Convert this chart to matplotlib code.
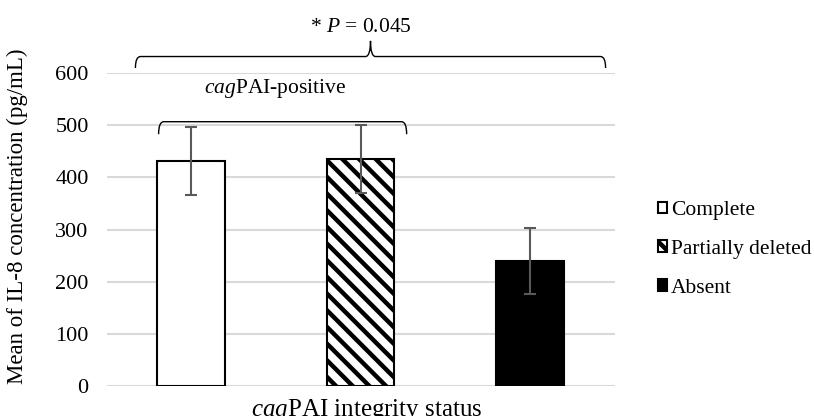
import matplotlib.pyplot as plt
from matplotlib.path import Path
from matplotlib.patches import PathPatch
import numpy as np

plt.rcParams['font.family'] = ['Liberation Serif', 'DejaVu Serif']
plt.rcParams['mathtext.fontset'] = 'custom'
plt.rcParams['mathtext.rm'] = 'Liberation Serif'
plt.rcParams['mathtext.it'] = 'Liberation Serif:italic'
plt.rcParams['hatch.linewidth'] = 3.2

# data
categories = ["Complete", "Partially deleted", "Absent"]
means = [432, 435, 240]
errors = [65, 65, 64]
faces = ["white", "white", "black"]
hatches = [None, "\\\\", None]
yticks = [0, 100, 200, 300, 400, 500, 600]

fig = plt.figure(figsize=(8.14, 4.16), dpi=100)
ax = fig.add_axes([0.131, 0.072, 0.624, 0.752])

x = np.arange(len(categories))
for i in range(len(categories)):
    ax.bar(x[i], means[i], width=0.4, color=faces[i], edgecolor="black",
           linewidth=1.5, hatch=hatches[i], zorder=3, label=categories[i])
ax.errorbar(x, means, yerr=errors, fmt="none", ecolor="#595959",
            elinewidth=1.5, capsize=4, capthick=1.5, zorder=4)

ax.set_xlim(-0.5, 2.5)
ax.set_ylim(0, 600)
ax.set_yticks(yticks)
ax.set_xticks([])
ax.tick_params(axis="y", length=0, labelsize=16, pad=13)
ax.yaxis.grid(True, color="#d9d9d9", linewidth=1.5, zorder=0)
for s in ax.spines.values():
    s.set_visible(False)
ax.set_ylabel("Mean of IL-8 concentration (pg/mL)", fontsize=16.5)
ax.yaxis.set_label_coords(-0.155, 0.543)
ax.set_xlabel(r"$\mathit{cag}$PAI integrity status", fontsize=18)
ax.xaxis.set_label_coords(0.512, -0.036)


def brace(x0, x1, y, h, peak=0.0):
    # bracket with curled ends, optional centre point
    c = 0.03
    xm = (x0 + x1) / 2
    verts = [(x0, y - h), (x0, y), (x0 + c, y)]
    codes = [Path.MOVETO, Path.CURVE3, Path.CURVE3]
    if peak:
        verts += [(xm - c, y), (xm, y), (xm, y + peak),
                  (xm, y), (xm + c, y)]
        codes += [Path.LINETO, Path.CURVE3, Path.CURVE3,
                  Path.CURVE3, Path.CURVE3]
    verts += [(x1 - c, y), (x1, y), (x1, y - h)]
    codes += [Path.LINETO, Path.CURVE3, Path.CURVE3]
    p = PathPatch(Path(verts, codes), fill=False, edgecolor="black",
                  linewidth=1.0, clip_on=False, zorder=5)
    ax.add_patch(p)


brace(-0.33, 2.447, 632, 22, peak=30)
brace(-0.193, 1.272, 507, 24)

ax.text(1.0, 688, r"* $\mathit{P}$ = 0.045", ha="center", va="center",
        fontsize=15.5, clip_on=False)
ax.text(0.494, 571, r"$\mathit{cag}$PAI-positive", ha="center", va="center",
        fontsize=15.5, clip_on=False)

ax.legend(loc="center left", bbox_to_anchor=(1.085, 0.437), frameon=False,
          fontsize=15.5, handlelength=0.45, handleheight=0.45, handletextpad=0.15,
          labelspacing=0.92, borderaxespad=0, borderpad=0)

fig.savefig("out.png", dpi=100)
